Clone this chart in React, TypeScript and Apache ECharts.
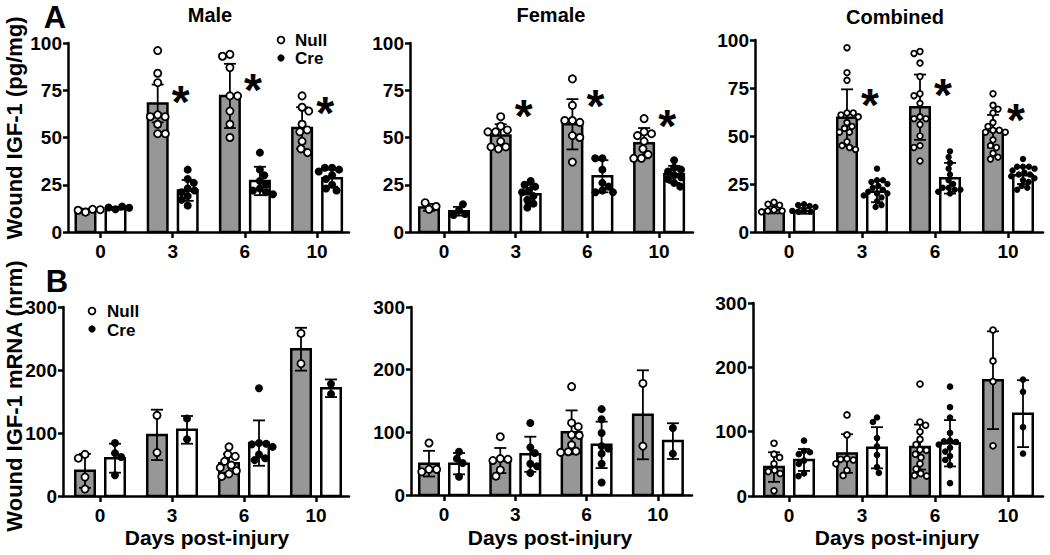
import React, { useEffect, useRef } from 'react';
import * as echarts from 'echarts';

// ---------- categories ----------
const days = ['0', '3', '6', '10'];

// ---------- Panel A: wound IGF-1 protein (pg/mg) ----------
// Male
const maleA_nullMean = [11.5, 68, 72, 55];
const maleA_nullSD = [0.8, 10, 17, 11];
const maleA_creMean = [12.5, 22, 27, 28.5];
const maleA_creSD = [0.7, 5.5, 7.5, 4.5];
const maleA_nullPts = [
  [10.5, 11.5, 12, 11.8],
  [96, 84, 79, 62, 61, 61, 57, 52, 52],
  [94, 93, 87, 72, 72, 64, 57, 50],
  [72, 66, 64, 57, 54, 53, 48, 44, 42],
];
const maleA_crePts = [
  [12, 13, 13.5, 12.8],
  [33, 28, 26, 23, 22, 21, 19, 17, 14],
  [42, 33, 30, 27, 25, 23, 22, 21, 20],
  [34, 34, 33, 32, 30, 28, 25, 23, 22],
];
const maleA_sig = [null, 73.8, 80, 67.5];

// Female
const femaleA_nullMean = [13, 51, 57, 47];
const femaleA_nullSD = [1.8, 6, 13.3, 8];
const femaleA_creMean = [11, 20, 29.5, 30.5];
const femaleA_creSD = [2.3, 5, 8.5, 4.5];
const femaleA_nullPts = [
  [12, 15.5, 13.5],
  [61, 56, 54, 53, 53, 48, 45, 44, 45],
  [81, 67, 59, 59, 58, 51, 50, 37],
  [60, 53, 52, 51, 48, 44, 41, 39, 39],
];
const femaleA_crePts = [
  [11.5, 9, 14.7, 9.5],
  [27, 25, 24, 22, 21, 19, 17, 15, 13],
  [39, 39, 33, 26, 24, 22, 21, 21],
  [38, 34, 33, 32, 30, 29, 28, 26, 24],
];
const femaleA_sig = [null, 66, 71.5, 61];

// Combined
const combA_nullMean = [11.5, 59.5, 65, 52.5];
const combA_nullSD = [1.8, 14.8, 17, 8.5];
const combA_creMean = [11, 21, 28, 29.5];
const combA_creSD = [1.5, 5.5, 8, 4.5];
const combA_nullPts = [
  [15.5, 14.5, 14, 11.5, 11, 11, 10.5],
  [96, 83, 79, 62, 62, 61, 60, 57, 55, 54, 52, 52, 47, 45, 44, 43],
  [94, 93, 88, 81, 72, 71, 67, 60, 59, 59, 56, 50, 45, 44, 37],
  [72, 66, 64, 62, 57, 55, 53, 53, 52, 52, 48, 45, 44, 41, 39, 38],
];
const combA_crePts = [
  [14.5, 14, 13.5, 13, 11, 10.5, 10.5, 11],
  [33, 27, 27, 26, 25, 24, 23, 22, 21, 20, 20, 19, 18, 16, 14, 13],
  [42, 39, 36, 33, 30, 27, 25, 23, 23, 22, 22, 21, 20],
  [38, 34, 34, 34, 33, 32, 31, 30, 30, 29, 28, 27, 26, 24, 23, 22],
];
const combA_sig = [null, 71, 76, 63];

// ---------- Panel B: wound IGF-1 mRNA (nrm) ----------
const maleB_nullMean = [40, 97, 52, 233];
const maleB_nullSD = [27, 40, 15, 34];
const maleB_creMean = [60, 105, 84, 171];
const maleB_creSD = [23, 22, 36, 14];
const maleB_nullPts = [[66, 60, 30, 11], [128, 69], [78, 66, 63, 55, 49, 45, 40, 35, 31], [258, 210]];
const maleB_crePts = [[84, 68, 62, 33], [123, 90], [171, 84, 83, 82, 78, 66, 60, 57], [178, 162]];

const femaleB_nullMean = [50, 55, 100, 128];
const femaleB_nullSD = [20.5, 20, 35, 71];
const femaleB_creMean = [50, 65, 80, 86];
const femaleB_creSD = [17, 28, 37, 28.5];
const femaleB_nullPts = [[83, 41, 41, 37], [93, 58, 57, 55, 40, 30], [173, 115, 109, 96, 95, 80, 70, 69, 68], [178, 78]];
const femaleB_crePts = [[69, 58, 51, 29], [115, 76, 67, 50, 46, 35], [137, 121, 99, 78, 74, 66, 50, 20], [107, 66]];

const combB_nullMean = [45, 66, 76, 180];
const combB_nullSD = [23, 30, 35, 76];
const combB_creMean = [56, 75, 82, 128];
const combB_creSD = [17, 32, 36, 52];
const combB_nullPts = [
  [82, 65, 60, 50, 40, 38, 35, 8],
  [126, 95, 58, 57, 56, 50, 40, 32],
  [174, 115, 110, 100, 88, 80, 72, 71, 65, 60, 50, 42, 35, 32, 31],
  [258, 210, 178, 78],
];
const combB_crePts = [
  [86, 70, 68, 65, 55, 50, 35, 31],
  [122, 115, 90, 77, 64, 45, 36],
  [170, 138, 122, 98, 86, 85, 84, 80, 75, 69, 62, 56, 48, 20],
  [181, 162, 107, 66],
];

// ---------- texts ----------
const panelTitles = ['Male', 'Female', 'Combined'];
const yTitleA = 'Wound IGF-1 (pg/mg)';
const yTitleB = 'Wound IGF-1 mRNA (nrm)';
const xTitle = 'Days post-injury';
const groupNames = ['Null', 'Cre'];

const FONT = '"Liberation Sans", Arial, Helvetica, sans-serif';

const panels = [
  { nm: maleA_nullMean, ns: maleA_nullSD, cm: maleA_creMean, cs: maleA_creSD, np: maleA_nullPts, cp: maleA_crePts, sig: maleA_sig, ymax: 100, step: 25, dot: 9 },
  { nm: femaleA_nullMean, ns: femaleA_nullSD, cm: femaleA_creMean, cs: femaleA_creSD, np: femaleA_nullPts, cp: femaleA_crePts, sig: femaleA_sig, ymax: 100, step: 25, dot: 9 },
  { nm: combA_nullMean, ns: combA_nullSD, cm: combA_creMean, cs: combA_creSD, np: combA_nullPts, cp: combA_crePts, sig: combA_sig, ymax: 100, step: 25, dot: 7.4 },
  { nm: maleB_nullMean, ns: maleB_nullSD, cm: maleB_creMean, cs: maleB_creSD, np: maleB_nullPts, cp: maleB_crePts, sig: null, ymax: 300, step: 100, dot: 9 },
  { nm: femaleB_nullMean, ns: femaleB_nullSD, cm: femaleB_creMean, cs: femaleB_creSD, np: femaleB_nullPts, cp: femaleB_crePts, sig: null, ymax: 300, step: 100, dot: 9 },
  { nm: combB_nullMean, ns: combB_nullSD, cm: combB_creMean, cs: combB_creSD, np: combB_nullPts, cp: combB_crePts, sig: null, ymax: 300, step: 100, dot: 7.6 },
];

// layout (pixels): y-axis x, first group centre, group spacing, x-axis end, top, bottom
const layout = [
  { ax: 68, c0: 100.5, sp: 72.2, end: 349, top: 43, bottom: 232 },
  { ax: 410, c0: 444, sp: 71.7, end: 693, top: 43, bottom: 232 },
  { ax: 755, c0: 789, sp: 73, end: 1043, top: 40, bottom: 232 },
  { ax: 63, c0: 100, sp: 72, end: 349, top: 307, bottom: 496 },
  { ax: 411, c0: 444, sp: 71.3, end: 692, top: 307, bottom: 495 },
  { ax: 753, c0: 789, sp: 73, end: 1043, top: 303, bottom: 496 },
];

const BAR_OFF = 15;

function swarm(vals: number[], pxPerVal: number, D: number): number[] {
  const placed: { x: number; y: number }[] = [];
  const out: number[] = [];
  vals.forEach((v, idx) => {
    const y = v * pxPerVal;
    const cands = [0];
    placed.forEach((p) => {
      const dy = Math.abs(y - p.y);
      if (dy < D) {
        const dx = Math.sqrt(D * D - dy * dy);
        cands.push(p.x + dx, p.x - dx);
      }
    });
    cands.sort((a, b) => Math.abs(a) - Math.abs(b) || (idx % 2 ? a - b : b - a));
    let chosen = 0;
    for (const c of cands) {
      if (placed.every((p) => (c - p.x) ** 2 + (y - p.y) ** 2 >= D * D - 0.01)) {
        chosen = c;
        break;
      }
    }
    placed.push({ x: chosen, y });
    out.push(chosen);
  });
  return out;
}

function txt(text: string, x: number, y: number, size: number, opts: any = {}) {
  return {
    type: 'text',
    x,
    y,
    rotation: opts.rotation || 0,
    silent: true,
    style: {
      text,
      fill: '#000',
      font: `bold ${size}px ${FONT}`,
      textAlign: opts.align || 'center',
      align: opts.align || 'center',
      textVerticalAlign: 'middle',
      verticalAlign: 'middle',
    },
  };
}

function buildOption() {
  const grid: any[] = [];
  const xAxis: any[] = [];
  const yAxis: any[] = [];
  const series: any[] = [];
  const axisLineStyle = { color: '#000', width: 2.5 };
  const labelStyle = { color: '#000', fontSize: 19, fontWeight: 'bold', fontFamily: FONT };

  panels.forEach((p, i) => {
    const L = layout[i];
    grid.push({ left: L.ax, top: L.top, width: L.end - L.ax, height: L.bottom - L.top });
    xAxis.push({
      gridIndex: i,
      type: 'value',
      min: (L.ax - L.c0) / L.sp,
      max: (L.end - L.c0) / L.sp,
      axisLine: { show: true, onZero: false, lineStyle: axisLineStyle },
      axisTick: { show: true, customValues: [0, 1, 2, 3], length: 6, lineStyle: axisLineStyle },
      axisLabel: { ...labelStyle, customValues: [0, 1, 2, 3], margin: 10, formatter: (v: number) => days[Math.round(v)] },
      splitLine: { show: false },
    });
    yAxis.push({
      gridIndex: i,
      type: 'value',
      min: 0,
      max: p.ymax,
      interval: p.step,
      axisLine: { show: true, onZero: false, lineStyle: axisLineStyle },
      axisTick: { show: true, length: 5, lineStyle: axisLineStyle },
      axisLabel: { ...labelStyle, margin: 6 },
      splitLine: { show: false },
    });

    const barData: number[][] = [];
    for (let g = 0; g < days.length; g++) {
      barData.push([g, p.nm[g], p.ns[g], -1]);
      barData.push([g, p.cm[g], p.cs[g], 1]);
    }
    series.push({
      type: 'custom',
      xAxisIndex: i,
      yAxisIndex: i,
      data: barData,
      encode: { x: 0, y: 1 },
      z: 2,
      silent: true,
      clip: false,
      renderItem: (params: any, api: any) => {
        const g = api.value(0);
        const m = api.value(1);
        const sd = api.value(2);
        const side = api.value(3);
        const pm = api.coord([g, m]);
        const p0 = api.coord([g, 0]);
        const pt = api.coord([g, m + sd]);
        const pb = api.coord([g, Math.max(0, m - sd)]);
        const cx = pm[0] + side * BAR_OFF;
        const es = { stroke: '#000', lineWidth: 1.8 };
        return {
          type: 'group',
          children: [
            {
              type: 'rect',
              shape: { x: cx - 9.75, y: pm[1], width: 19.5, height: p0[1] - pm[1] },
              style: { fill: side < 0 ? '#979797' : '#ffffff', stroke: '#000', lineWidth: 2.5 },
            },
            { type: 'line', shape: { x1: cx, y1: pt[1], x2: cx, y2: pb[1] }, style: es },
            { type: 'line', shape: { x1: cx - 6, y1: pt[1], x2: cx + 6, y2: pt[1] }, style: es },
            { type: 'line', shape: { x1: cx - 6, y1: pb[1], x2: cx + 6, y2: pb[1] }, style: es },
          ],
        };
      },
    });

    const pxPerVal = (L.bottom - L.top) / p.ymax;
    const nullData: any[] = [];
    p.np.forEach((pts: number[], g: number) => {
      const offs = swarm(pts, pxPerVal, p.dot * 0.85);
      pts.forEach((v, k) => nullData.push({ value: [g, v], symbolOffset: [-BAR_OFF + offs[k], 0] }));
    });
    const creData: any[] = [];
    p.cp.forEach((pts: number[], g: number) => {
      const offs = swarm(pts, pxPerVal, p.dot * 0.8);
      pts.forEach((v, k) => creData.push({ value: [g, v], symbolOffset: [BAR_OFF + offs[k], 0] }));
    });
    series.push({
      type: 'scatter',
      name: groupNames[0],
      xAxisIndex: i,
      yAxisIndex: i,
      data: nullData,
      symbol: 'circle',
      symbolSize: p.dot - 1.8,
      itemStyle: { color: '#fff', borderColor: '#000', borderWidth: 1.8, opacity: 1 },
      z: 4,
      silent: true,
      clip: false,
    });
    series.push({
      type: 'scatter',
      name: groupNames[1],
      xAxisIndex: i,
      yAxisIndex: i,
      data: creData,
      symbol: 'circle',
      symbolSize: p.dot - 1,
      itemStyle: { color: '#000', opacity: 1 },
      z: 4,
      silent: true,
      clip: false,
    });

    if (p.sig) {
      const sigData: number[][] = [];
      p.sig.forEach((v: any, g: number) => {
        if (v != null) sigData.push([g, v]);
      });
      series.push({
        type: 'custom',
        xAxisIndex: i,
        yAxisIndex: i,
        data: sigData,
        encode: { x: 0, y: 1 },
        z: 5,
        silent: true,
        clip: false,
        renderItem: (params: any, api: any) => {
          const pt = api.coord([api.value(0), api.value(1)]);
          return {
            type: 'text',
            x: pt[0] + 8,
            y: pt[1] + 9,
            style: {
              text: '*',
              fill: '#000',
              font: `bold 46px ${FONT}`,
              textAlign: 'center',
              align: 'center',
              textVerticalAlign: 'middle',
              verticalAlign: 'middle',
            },
          };
        },
      });
    }
  });

  const graphic: any[] = [
    txt('A', 55, 17, 31),
    txt('B', 57, 281, 31),
    txt(panelTitles[0], 210, 15, 20),
    txt(panelTitles[1], 551, 15, 20),
    txt(panelTitles[2], 895, 17, 20),
    txt(yTitleA, 14, 128, 22, { rotation: Math.PI / 2 }),
    txt(yTitleB, 14, 396, 22, { rotation: Math.PI / 2 }),
    txt(xTitle, 207, 537, 21),
    txt(xTitle, 550, 537, 21),
    txt(xTitle, 897, 537, 21),
    // legend panel A male
    { type: 'circle', shape: { cx: 281, cy: 40, r: 3.4 }, style: { fill: '#fff', stroke: '#000', lineWidth: 1.8 }, silent: true },
    txt(groupNames[0], 295, 40, 17, { align: 'left' }),
    { type: 'circle', shape: { cx: 281, cy: 58, r: 3.6 }, style: { fill: '#000' }, silent: true },
    txt(groupNames[1], 295, 58.5, 17, { align: 'left' }),
    // legend panel B male
    { type: 'circle', shape: { cx: 92, cy: 311, r: 3.4 }, style: { fill: '#fff', stroke: '#000', lineWidth: 1.8 }, silent: true },
    txt(groupNames[0], 107, 311, 17, { align: 'left' }),
    { type: 'circle', shape: { cx: 92, cy: 329, r: 3.6 }, style: { fill: '#000' }, silent: true },
    txt(groupNames[1], 107, 330, 17, { align: 'left' }),
  ];

  return { animation: false, backgroundColor: '#ffffff', grid, xAxis, yAxis, series, graphic };
}

export default function App() {
  const ref = useRef<HTMLDivElement>(null);
  useEffect(() => {
    if (!ref.current) return;
    const chart = echarts.init(ref.current, null, { renderer: 'svg' });
    chart.setOption(buildOption() as any);
    return () => chart.dispose();
  }, []);
  return <div ref={ref} style={{ position: 'fixed', left: 0, top: 0, width: 1050, height: 555 }} />;
}
